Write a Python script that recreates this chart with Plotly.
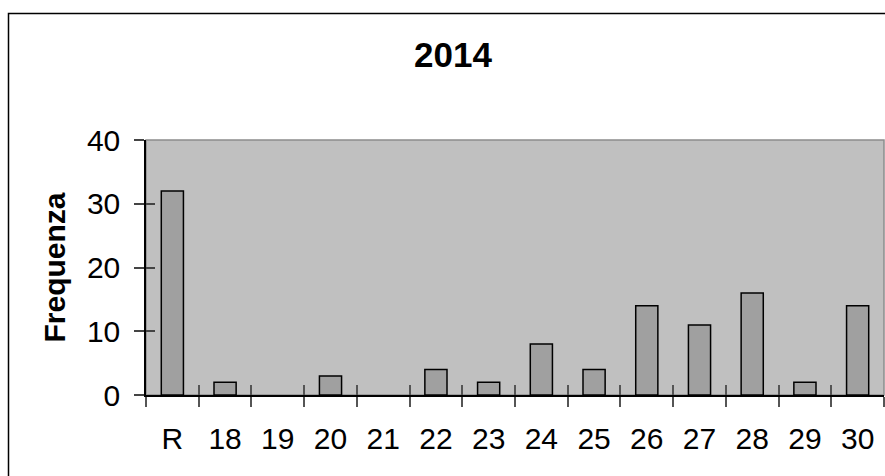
import plotly.graph_objects as go

categories = ["R", "18", "19", "20", "21", "22", "23", "24", "25", "26", "27", "28", "29", "30"]
frequenza = [32, 2, 0, 3, 0, 4, 2, 8, 4, 14, 11, 16, 2, 14]
y_ticks = [0, 10, 20, 30, 40]
title_text = "2014"
y_title = "Frequenza"

W, H = 885, 476
L, R, T, B = 146, 1, 140, 81
FONT = "Liberation Sans, Arial, sans-serif"

fig = go.Figure()
fig.add_trace(go.Bar(
    x=categories, y=frequenza,
    marker=dict(color="#a0a0a0",
                line=dict(color="#000000", width=[1.5 if v > 0 else 0 for v in frequenza])),
    hoverinfo="x+y", showlegend=False,
))
# invisible twin trace used only to carry the inner half of the crossing ticks
fig.add_trace(go.Bar(
    x=categories, y=frequenza, xaxis="x2", yaxis="y2",
    marker=dict(color="rgba(0,0,0,0)", line=dict(width=0)),
    hoverinfo="skip", showlegend=False,
))

pw = W - L - R
ph = H - T - B
fig.add_shape(type="rect", xref="paper", yref="paper", x0=0, x1=1, y0=0, y1=1,
              line=dict(color="#8c8c8c", width=1.5), fillcolor="rgba(0,0,0,0)", layer="below")
# outer chart border
fig.add_shape(type="rect", xref="paper", yref="paper",
              x0=(8.5 - L) / pw, x1=(W + 5 - L) / pw,
              y0=-(H + 5 - (T + ph)) / ph, y1=(T + ph - 13.5) / ph,
              line=dict(color="#000000", width=1.5), fillcolor="rgba(0,0,0,0)", layer="below")

fig.update_layout(
    width=W, height=H,
    margin=dict(l=L, r=R, t=T, b=B, pad=0),
    paper_bgcolor="#ffffff", plot_bgcolor="#c0c0c0",
    font=dict(family=FONT, color="#000000", size=30),
    bargap=0.58,
    title=dict(text="<b>" + title_text + "</b>", x=453 / W, xref="container", xanchor="center",
               y=1 - 55 / H, yref="container", yanchor="middle",
               font=dict(size=35, family=FONT, color="#000000")),
    xaxis=dict(type="category", categoryorder="array", categoryarray=categories,
               range=[-0.5, len(categories) - 0.5],
               showline=True, linecolor="#000000", linewidth=1.5,
               ticks="outside", tickson="boundaries", ticklen=10, tickwidth=1.5, tickcolor="#555555",
               showgrid=False, zeroline=False, ticklabelstandoff=16,
               tickfont=dict(size=30, family=FONT, color="#000000")),
    xaxis2=dict(type="category", categoryorder="array", categoryarray=categories,
                range=[-0.5, len(categories) - 0.5], overlaying="x", anchor="y",
                side="bottom", showline=False, showticklabels=False,
                ticks="inside", tickson="boundaries", ticklen=10, tickwidth=1.5, tickcolor="#555555",
                showgrid=False, zeroline=False),
    yaxis=dict(range=[0, 40], tickvals=y_ticks, showline=True, linecolor="#000000", linewidth=1.5,
               ticks="outside", ticklen=10, tickwidth=1.5, tickcolor="#444444",
               showgrid=False, zeroline=False, ticklabelstandoff=8,
               tickfont=dict(size=30, family=FONT, color="#000000"),
               title=dict(text="<b>" + y_title + "</b>", standoff=12,
                          font=dict(size=30, family=FONT, color="#000000"))),
    yaxis2=dict(range=[0, 40], tickvals=y_ticks, overlaying="y", anchor="x", side="left",
                showline=False, showticklabels=False,
                ticks="inside", ticklen=9, tickwidth=1.5, tickcolor="#444444",
                showgrid=False, zeroline=False),
)

fig.write_html("out.html", config={"displayModeBar": False},
               post_script="document.body.style.margin='0';document.body.style.overflow='hidden';")
